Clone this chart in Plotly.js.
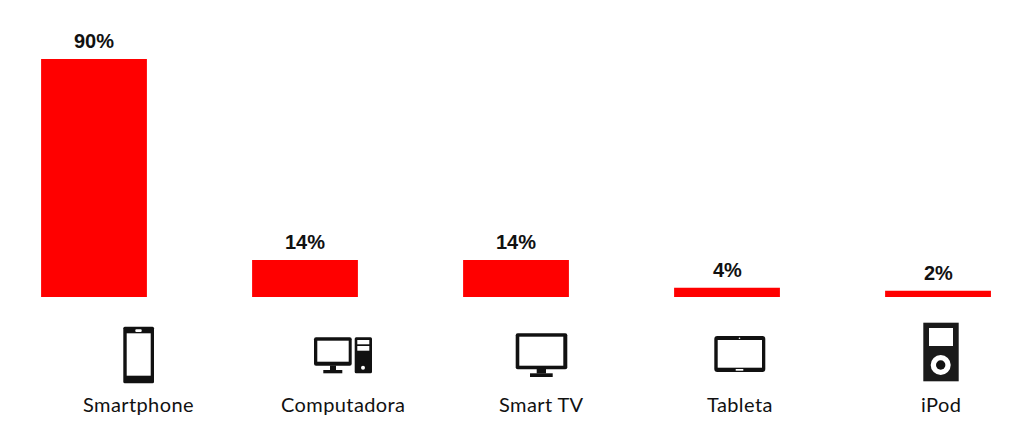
<!DOCTYPE html>
<html>
<head>
<meta charset="utf-8">
<script src="https://cdn.plot.ly/plotly-3.0.1.min.js"></script>
<style>html,body{margin:0;padding:0;background:#fff}#c{width:1024px;height:443px}</style>
</head>
<body>
<div id="c"></div>
<script>
var categories = ["Smartphone", "Computadora", "Smart TV", "Tableta", "iPod"];
var shares = [90, 14, 14, 3.5, 2.4];

var W = 1024, H = 443;
var ink = "#111";
var labelCentres = [138.5, 343, 541, 740, 941];

function rect(x0, y0, x1, y1, fill, r) {
  return '<rect x="' + x0 + '" y="' + y0 + '" width="' + (x1 - x0) + '" height="' + (y1 - y0) + '" rx="' + (r || 0) + '" fill="' + fill + '"/>';
}
function circ(cx, cy, r, fill) {
  return '<circle cx="' + cx + '" cy="' + cy + '" r="' + r + '" fill="' + fill + '"/>';
}
var icons = [
  rect(123.3, 326.7, 154, 383.3, ink, 1.5) + rect(126.7, 333.3, 150.7, 375.7, "#fff") + rect(135.3, 329.3, 141.7, 332, "#fff", 1),
  rect(314, 337.3, 351.7, 365.7, ink, 2) + rect(317.3, 340.7, 348.7, 361.7, "#fff") + rect(330, 365.5, 336, 370.2, ink) + rect(323.3, 370, 342.3, 373.3, ink) +
    rect(354.7, 337.3, 372, 373.3, ink, 1.5) + rect(357.3, 340, 369.3, 344.3, "#fff") + rect(357.3, 346, 369.3, 350.7, "#fff") + circ(363, 367.7, 2, "#fff"),
  rect(515.7, 333.3, 567.3, 369.3, ink, 2) + rect(519.3, 336.7, 563.3, 365.7, "#fff") + rect(536.7, 369, 546, 373.5, ink) + rect(530, 373.3, 552.7, 377, ink),
  rect(714.3, 336, 765.3, 372, ink, 3) + rect(717.7, 340, 762, 367.7, "#fff") + rect(735.7, 369, 743.3, 370.7, "#fff") + circ(739.5, 338.2, 0.8, "#fff"),
  rect(923.3, 322.7, 958.7, 381.3, "#1a1a1a") + rect(929, 328, 953, 346, "#fff") + circ(940.7, 365, 10, "#fff") + circ(940.7, 365, 4.7, ink)
];
var iconImage = "data:image/svg+xml;charset=utf-8," + encodeURIComponent(
  '<svg xmlns="http://www.w3.org/2000/svg" width="' + W + '" height="' + H + '" viewBox="0 0 ' + W + ' ' + H + '">' + icons.join("") + '</svg>'
);

var trace = {
  type: "bar",
  x: categories,
  y: shares,
  marker: { color: "#ff0000" },
  hoverinfo: "skip"
};

var valueLabels = categories.map(function (c, i) {
  return {
    text: Math.round(shares[i]) + "%",
    xref: "x", yref: "y", x: c, y: shares[i],
    xanchor: "center", yanchor: "bottom", yshift: 5, showarrow: false,
    font: { family: "Liberation Sans, Arial, sans-serif", size: 20, weight: 700, color: "#111" }
  };
});
var categoryLabels = categories.map(function (c, i) {
  return {
    text: '<span style="letter-spacing:0.4px">' + c + '</span>',
    xref: "paper", yref: "paper",
    x: labelCentres[i] / W, y: 1 - 404 / 297,
    xanchor: "center", yanchor: "middle", showarrow: false,
    font: { family: "Lato, 'Open Sans', sans-serif", size: 20, color: "#111" }
  };
});

var layout = {
  width: W, height: H,
  margin: { l: 0, r: 0, t: 0, b: 146, pad: 0 },
  paper_bgcolor: "#fff", plot_bgcolor: "#fff",
  showlegend: false,
  bargap: 0.4985,
  xaxis: { type: "category", categoryorder: "array", categoryarray: categories, range: [-0.4455, 4.4075], showticklabels: false, ticks: "", showline: false, showgrid: false, zeroline: false },
  yaxis: { range: [0, 112.3], visible: false, showgrid: false, zeroline: false },
  // The icon sheet spans the whole page, so it is sized against the plot area (297px tall).
  images: [{ source: iconImage, xref: "paper", yref: "paper", x: 0, y: 1, sizex: 1, sizey: H / 297, xanchor: "left", yanchor: "top", sizing: "stretch", layer: "above" }],
  annotations: valueLabels.concat(categoryLabels)
};

Plotly.newPlot("c", [trace], layout, { displayModeBar: false, staticPlot: true });
</script>
</body>
</html>
